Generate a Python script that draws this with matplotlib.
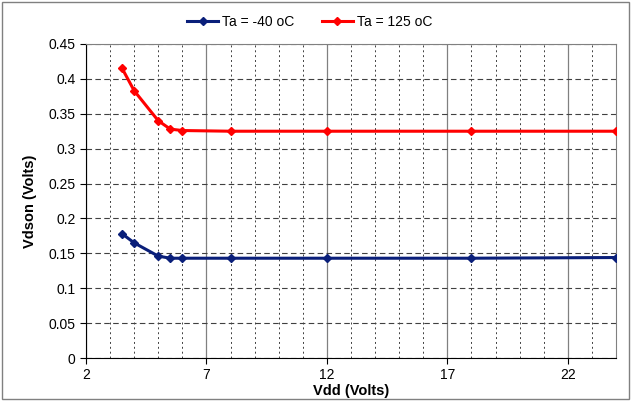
import matplotlib.pyplot as plt
import numpy as np
from matplotlib.patches import Rectangle

plt.rcParams["font.family"] = ["Liberation Sans", "DejaVu Sans"]

vdd = [3.5, 4.0, 5.0, 5.5, 6.0, 8.0, 12.0, 18.0, 24.0]
vdson_cold = [0.178, 0.165, 0.146, 0.143, 0.143, 0.143, 0.143, 0.143, 0.144]
vdson_hot = [0.415, 0.383, 0.340, 0.328, 0.326, 0.325, 0.325, 0.325, 0.325]
labels = ["Ta = -40 oC", "Ta = 125 oC"]
x_ticks = [2, 7, 12, 17, 22]

fig = plt.figure(figsize=(6.32, 4.03), dpi=100)
ax = fig.add_axes([86 / 632, 45 / 403, 530 / 632, 314 / 403])

# outer chart border
fig.patches.append(Rectangle((2 / 632, 4 / 403), 627 / 632, 397 / 403,
                             transform=fig.transFigure, fill=False,
                             edgecolor="#808080", linewidth=1.0))

ax.plot(vdd, vdson_cold, color="#0a1f7a", marker="D", markersize=4.5,
        linewidth=2.2, label=labels[0], zorder=3)
ax.plot(vdd, vdson_hot, color="#ff0000", marker="D", markersize=4.5,
        linewidth=2.2, label=labels[1], zorder=3)

ax.set_xlim(2, 24)
ax.set_ylim(0, 0.45)
ax.set_xticks(x_ticks)
ax.set_xticks([v for v in range(2, 25) if v not in x_ticks], minor=True)
ax.set_yticks(np.arange(0, 0.451, 0.05))
ax.set_yticklabels(["0"] + [f"{v:g}" for v in np.arange(0.05, 0.451, 0.05)])

ax.grid(which="major", axis="x", color="#808080", linestyle="-", linewidth=0.9)
ax.grid(which="minor", axis="x", color="#404040", linestyle=(0, (2, 3)), linewidth=0.7)
ax.grid(which="major", axis="y", color="#404040", linestyle=(0, (5, 3)), linewidth=0.8)
ax.set_axisbelow(True)

for side in ["top", "right"]:
    ax.spines[side].set_color("#808080")
for side in ["left", "bottom"]:
    ax.spines[side].set_color("#000000")

ax.tick_params(axis="both", which="major", labelsize=10, direction="out",
               length=4, color="black")
ax.tick_params(axis="x", which="minor", length=0)

ax.set_xlabel("Vdd (Volts)", fontsize=10.5, fontweight="bold", labelpad=1)
ax.set_ylabel("Vdson (Volts)", fontsize=10.5, fontweight="bold", labelpad=8)

fig.legend(loc="center", bbox_to_anchor=(0.49, 1 - 22 / 403), ncol=2,
           frameon=False, fontsize=10, handlelength=2.2, columnspacing=2.0,
           handletextpad=0.3)

fig.savefig("out.png", dpi=100)
